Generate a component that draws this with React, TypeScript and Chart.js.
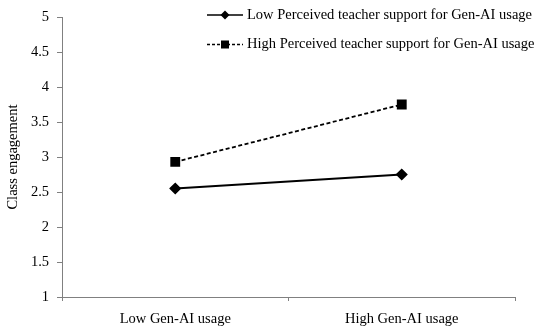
import React, { useEffect, useRef } from "react";
import { Chart, registerables } from "chart.js";

Chart.register(...registerables);

const categories = ["Low Gen-AI usage", "High Gen-AI usage"];
const lowSupport = [2.55, 2.75];
const highSupport = [2.93, 3.75];
const seriesNames = [
  "Low Perceived teacher support for Gen-AI usage",
  "High Perceived teacher support for Gen-AI usage",
];
const yTitle = "Class engagement";

const FONT = "'Liberation Serif', 'DejaVu Serif', serif";
const FS = 14.5;

const legendPlugin = {
  id: "customLegend",
  afterDraw(chart: any) {
    const ctx = chart.ctx;
    const items = chart.data.datasets;
    ctx.save();
    items.forEach((ds: any, i: number) => {
      const y = 15 + i * 29.5;
      const x0 = 207;
      const x1 = 243;
      ctx.strokeStyle = "#000";
      ctx.lineWidth = 1.6;
      ctx.setLineDash(ds.borderDash ? [3, 2] : []);
      ctx.beginPath();
      ctx.moveTo(x0, y);
      ctx.lineTo(x1, y);
      ctx.stroke();
      ctx.setLineDash([]);
      ctx.fillStyle = "#000";
      const cx = 225;
      if (ds.pointStyle === "rect") {
        ctx.fillRect(cx - 4, y - 4, 8, 8);
      } else {
        ctx.beginPath();
        ctx.moveTo(cx, y - 4.5);
        ctx.lineTo(cx + 4.5, y);
        ctx.lineTo(cx, y + 4.5);
        ctx.lineTo(cx - 4.5, y);
        ctx.closePath();
        ctx.fill();
      }
      ctx.font = `${FS}px ${FONT}`;
      ctx.textBaseline = "middle";
      ctx.textAlign = "left";
      ctx.fillText(ds.label, 247, y);
    });
    ctx.restore();
  },
};

export default function App() {
  const ref = useRef<HTMLCanvasElement>(null);
  useEffect(() => {
    const chart = new Chart(ref.current!, {
      type: "line",
      data: {
        labels: categories,
        datasets: [
          {
            label: seriesNames[0],
            data: lowSupport,
            borderColor: "#000",
            backgroundColor: "#000",
            borderWidth: 1.8,
            pointStyle: "rectRot",
            pointRadius: 4.8,
            pointHoverRadius: 4.8,
            fill: false,
          },
          {
            label: seriesNames[1],
            data: highSupport,
            borderColor: "#000",
            backgroundColor: "#000",
            borderWidth: 1.8,
            borderDash: [4, 2.5],
            pointStyle: "rect",
            pointRadius: 5.7,
            pointHoverRadius: 5.7,
            fill: false,
          },
        ],
      },
      options: {
        animation: false,
        responsive: false,
        maintainAspectRatio: false,
        layout: { padding: { top: 17, right: 35, left: 0, bottom: 0 } },
        plugins: { legend: { display: false }, tooltip: { enabled: false } },
        scales: {
          x: {
            type: "category",
            offset: true,
            grid: {
              display: true,
              offset: true,
              drawOnChartArea: false,
              drawTicks: true,
              tickLength: 4,
              color: "#808080",
            },
            border: { display: true, color: "#808080", width: 1 },
            ticks: {
              color: "#000",
              font: { family: FONT, size: FS },
              padding: 9,
            },
            afterFit(scale: any) {
              scale.height = 35;
            },
          },
          y: {
            min: 1,
            max: 5,
            ticks: {
              stepSize: 0.5,
              color: "#000",
              font: { family: FONT, size: FS },
              padding: 8,
              callback: (v: any) => String(v),
            },
            grid: {
              display: true,
              drawOnChartArea: false,
              drawTicks: true,
              tickLength: 5,
              color: "#808080",
            },
            border: { display: true, color: "#808080", width: 1 },
            title: {
              display: true,
              text: yTitle,
              color: "#000",
              font: { family: FONT, size: FS },
              padding: { top: 4, bottom: 0 },
            },
            afterFit(scale: any) {
              scale.width = 62;
            },
          },
        },
      },
      plugins: [legendPlugin],
    });
    return () => chart.destroy();
  }, []);
  return (
    <div style={{ position: "fixed", left: 0, top: 0, width: 550, height: 332, background: "#fff" }}>
      <canvas ref={ref} width={550} height={332} />
    </div>
  );
}
